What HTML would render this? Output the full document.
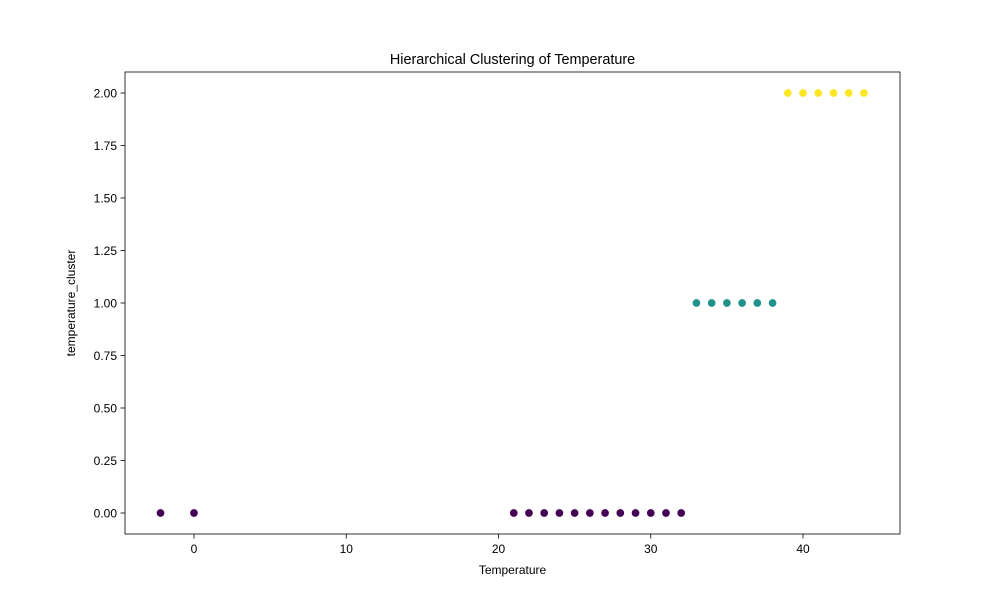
<!DOCTYPE html>
<html><head><meta charset="utf-8"><style>body{margin:0;background:#fff}svg{display:block;font-family:"Liberation Sans","DejaVu Sans",sans-serif}</style></head>
<body>
<svg id="chart" width="1000" height="600" xmlns="http://www.w3.org/2000/svg">
<rect width="1000" height="600" fill="#fff"/>
<g id="plot"></g>
</svg>
<script>
const temps = [-2.2, 0, 21, 22, 23, 24, 25, 26, 27, 28, 29, 30, 31, 32, 33, 34, 35, 36, 37, 38, 39, 40, 41, 42, 43, 44];
const clusters = [0,0,0,0,0,0,0,0,0,0,0,0,0,0,1,1,1,1,1,1,2,2,2,2,2,2];
const xTicks = [0, 10, 20, 30, 40];
const yTicks = [0, 0.25, 0.5, 0.75, 1.0, 1.25, 1.5, 1.75, 2.0];
const colors = ['#440154', '#21918c', '#fde725'];
const L=125,R=900,T=72,B=534;
const xMin=-4.532,xMax=46.37,yMin=-0.1,yMax=2.1;
const sx=v=>L+(v-xMin)/(xMax-xMin)*(R-L);
const sy=v=>B-(v-yMin)/(yMax-yMin)*(B-T);
const ns='http://www.w3.org/2000/svg';
const g=document.getElementById('plot');
function mk(t,a,txt){const e=document.createElementNS(ns,t);for(const k in a)e.setAttribute(k,a[k]);if(txt!==undefined)e.textContent=txt;g.appendChild(e);return e;}
xTicks.forEach(v=>{const x=sx(v);
const l=mk('line',{x1:x,x2:x,y1:B,y2:B+4.5,stroke:'#000','stroke-width':0.8});


const t=mk('text',{x:x,y:B+19,'text-anchor':'middle','font-size':12},String(v));

});
yTicks.forEach(v=>{const y=sy(v);
const l=mk('line',{x1:L-4.5,x2:L,y1:y,y2:y,stroke:'#000','stroke-width':0.8});


const t=mk('text',{x:L-8,y:y+4.5,'text-anchor':'end','font-size':12},v.toFixed(2));

});
temps.forEach((v,i)=>{
const c=mk('circle',{cx:sx(v),cy:sy(clusters[i]),r:4.2,fill:colors[clusters[i]],stroke:'#fff','stroke-width':0.7});

});
const f=mk('rect',{x:L,y:T,width:R-L,height:B-T,fill:'none',stroke:'#000','stroke-width':0.8});


const ti=mk('text',{x:(L+R)/2,y:64,'text-anchor':'middle','font-size':14.4},'Hierarchical Clustering of Temperature');


const xl=mk('text',{x:(L+R)/2,y:574,'text-anchor':'middle','font-size':12},'Temperature');


const yl=mk('text',{x:75,y:(T+B)/2,'text-anchor':'middle','font-size':12,transform:'rotate(-90 75 '+((T+B)/2)+')'},'temperature_cluster');


</script>
</body></html>
